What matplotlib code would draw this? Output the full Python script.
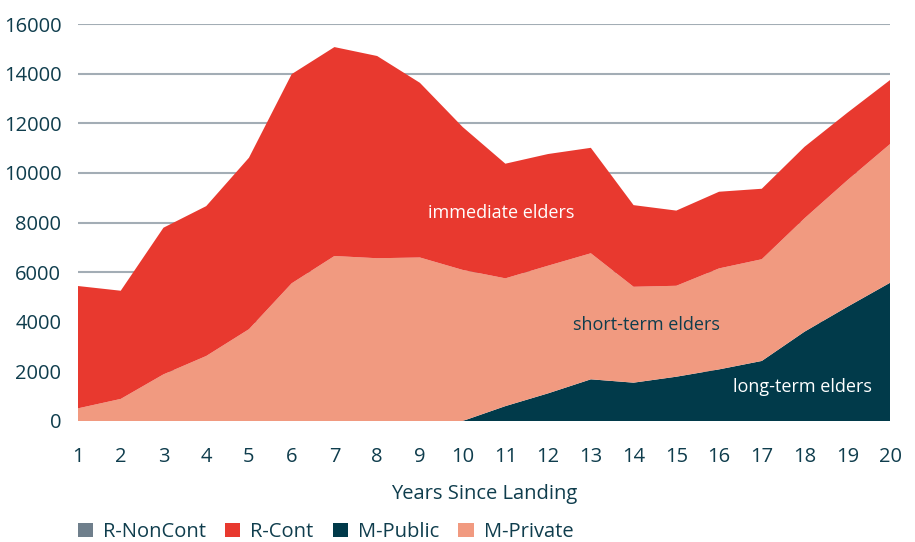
import matplotlib
matplotlib.use("Agg")
import matplotlib.pyplot as plt
from matplotlib.patches import Patch
import numpy as np

years = list(range(1, 21))
totals = [5440, 5250, 7790, 8660, 10610, 13980, 15070, 14710, 13630, 11850,
          10370, 10760, 11010, 8700, 8480, 9240, 9360, 11050, 12420, 13740]
private_top = [510, 890, 1880, 2620, 3700, 5550, 6650, 6560, 6590, 6090,
               5750, 6260, 6760, 5410, 5450, 6150, 6520, 8170, 9700, 11160]
m_public = [0, 0, 0, 0, 0, 0, 0, 0, 0, 0,
            600, 1115, 1680, 1545, 1785, 2080, 2420, 3600, 4600, 5570]
m_private = [p - q for p, q in zip(private_top, m_public)]
r_cont = [t - p for t, p in zip(totals, private_top)]
r_noncont = [0] * 20

labels = ["R-NonCont", "R-Cont", "M-Public", "M-Private"]
colors = {"R-NonCont": "#6f7f8c", "R-Cont": "#e8392f",
          "M-Public": "#013a4a", "M-Private": "#f19a80"}
txt = "#0f3d4d"

plt.rcParams['font.family'] = ['Open Sans', 'DejaVu Sans']

fs = 14.5
fig = plt.figure(figsize=(9.15, 5.42), dpi=100)
ax = fig.add_axes([78/915, 1-421/542, (890-78)/915, (421-24)/542])

ax.stackplot(years, m_public, m_private, r_cont, r_noncont,
             colors=[colors["M-Public"], colors["M-Private"], colors["R-Cont"], colors["R-NonCont"]],
             linewidth=0, zorder=2)

ax.set_xlim(1, 20)
ax.set_ylim(0, 16000)
ax.set_yticks(range(0, 16001, 2000))
ax.set_xticks(years)
ax.grid(axis='y', color='#a3adb5', linewidth=1.5, zorder=0)
ax.set_axisbelow(True)
for s in ax.spines.values():
    s.set_visible(False)
ax.tick_params(length=0, labelsize=fs, colors=txt)
ax.tick_params(axis='y', pad=12)
ax.tick_params(axis='x', pad=19)
ax.set_xlabel("Years Since Landing", fontsize=fs, color=txt, labelpad=12)

ax.text(10.9, 8400, "immediate elders", color="white", fontsize=13, ha='center', va='center', zorder=5)
ax.text(14.31, 3870, "short-term elders", color=txt, fontsize=13, ha='center', va='center', zorder=5)
ax.text(17.94, 1370, "long-term elders", color="white", fontsize=13, ha='center', va='center', zorder=5)

handles = [Patch(facecolor=colors[l], edgecolor='none') for l in labels]
fig.legend(handles, labels, loc='lower left', bbox_to_anchor=(78/915, 0.0), ncol=4,
           frameon=False, fontsize=fs, handlelength=0.75, handleheight=0.75,
           handletextpad=0.5, columnspacing=0.95, labelcolor=txt,
           borderpad=0.0, borderaxespad=0.0)

fig.savefig("out.png", dpi=100)
